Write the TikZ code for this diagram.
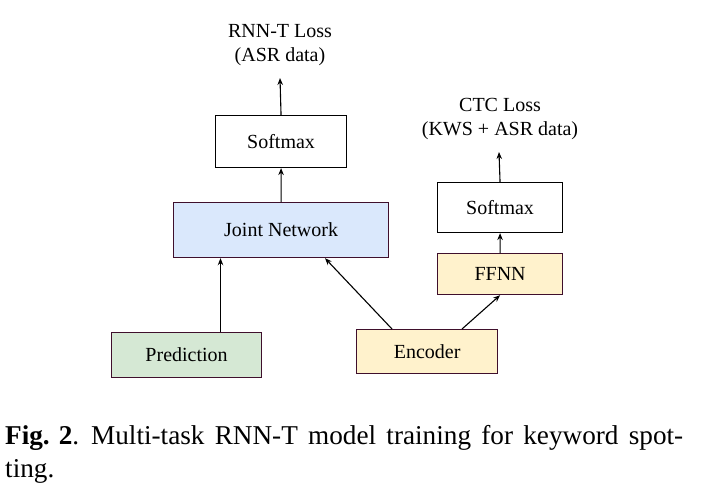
\documentclass[tikz,border=0pt]{standalone}
\usepackage{fontspec}
\setmainfont{Liberation Serif}
\usetikzlibrary{arrows.meta}
\definecolor{edge}{HTML}{3F0F2C}
\definecolor{blueF}{HTML}{DAE8FC}
\definecolor{greenF}{HTML}{D5E8D4}
\definecolor{yellowF}{HTML}{FFF2CC}
\begin{document}
\begin{tikzpicture}[x=1pt,y=-1pt,
  box/.style={draw=edge,line width=1.2pt,inner sep=0pt,anchor=north west,font=\fontsize{20}{22}\selectfont},
  plainbox/.style={draw=black,line width=1.1pt,inner sep=0pt,anchor=north west,font=\fontsize{20}{22}\selectfont},
  lbl/.style={align=center,font=\fontsize{20}{24}\selectfont,inner sep=0pt},
  arr/.style={draw=black,line width=1.1pt,-{Stealth[length=7pt,width=5.5pt]}},
  captext/.style={anchor=base west,inner sep=0pt,font=\fontsize{27.2}{30}\selectfont}]
\useasboundingbox (0,0) rectangle (710,488);
\node[plainbox,minimum width=131pt,minimum height=52pt] (sm1) at (215,115) {Softmax};
\node[box,fill=blueF,minimum width=215pt,minimum height=55pt] (jn) at (173,202) {Joint Network};
\node[box,fill=greenF,minimum width=150pt,minimum height=45pt] (pred) at (111,332) {Prediction};
\node[box,fill=yellowF,minimum width=141pt,minimum height=44pt] (enc) at (356,329) {Encoder};
\node[box,fill=yellowF,minimum width=125pt,minimum height=41pt] (ffnn) at (437,253) {FFNN};
\node[plainbox,minimum width=125pt,minimum height=50pt] (sm2) at (437,182) {Softmax};
\node[lbl] (rnnt) at (280,45) {RNN-T Loss\\(ASR data)};
\node[lbl] (ctc) at (500,119) {CTC Loss\\(KWS + ASR data)};
\coordinate (rnntb) at (280,78);
\coordinate (ctcb) at (499,152);
\draw[arr] (sm1.north) -- (rnntb);
\draw[arr] (jn.north) -- (sm1.south);
\draw[arr] (pred.north -| 220.5,0) -- (jn.south -| 220.5,0);
\draw[arr] (enc.north -| 392,0) -- (jn.south -| 325,0);
\draw[arr] (enc.north -| 462,0) -- (ffnn.south);
\draw[arr] (ffnn.north) -- (sm2.south);
\draw[arr] (sm2.north) -- (ctcb);
\node[captext] (fig) at (5,444) {\textbf{Fig. 2}.};
\node[captext] (cap1) at (91,444) {\makebox[592pt][s]{Multi-task RNN-T model training for keyword spot-}};
\node[captext] (cap2) at (5,477) {ting.};
\end{tikzpicture}
\end{document}
